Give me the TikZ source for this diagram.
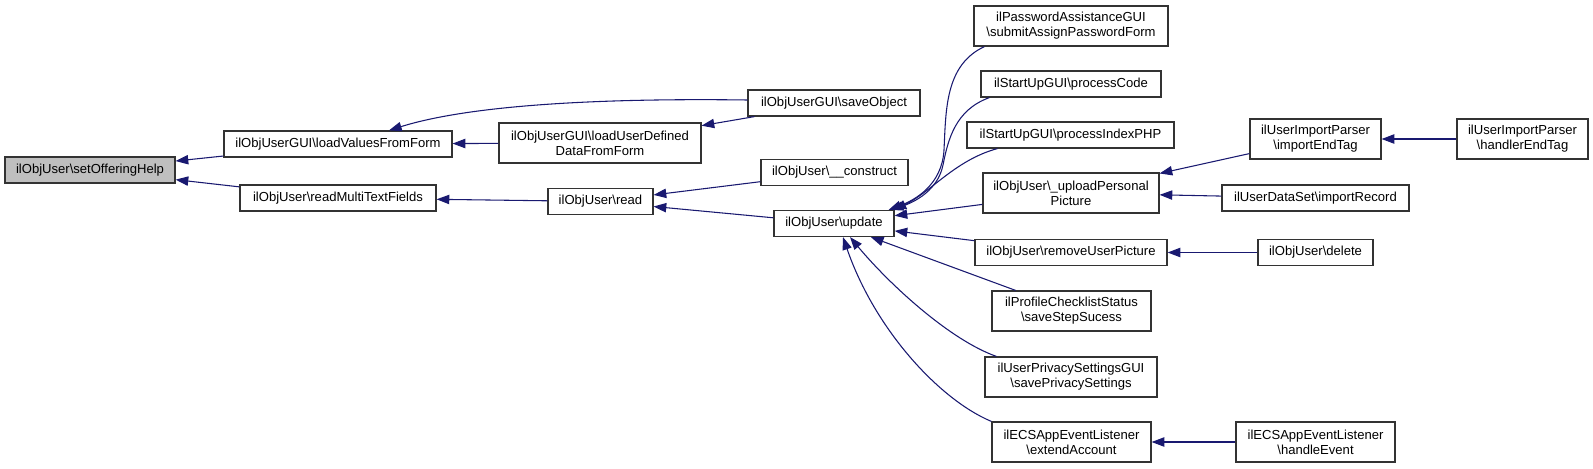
\documentclass[tikz,border=0pt]{standalone}
\usepackage{fontspec}
\setmainfont{Liberation Sans}
\usepackage{tikz}
\usetikzlibrary{arrows.meta, calc}
\definecolor{edgeblue}{RGB}{25,25,112}
\definecolor{rootgray}{RGB}{191,191,191}
\newcommand{\nsb}{\textbackslash}
\tikzset{>={Triangle[length=9.5pt,width=7pt]}}
\tikzset{
  fn/.style={draw=black!80, line width=0.9pt, fill=white, inner sep=0pt, align=center,
    minimum height=19.5pt, font=\fontsize{9.8}{11.25}\selectfont},
  fntwo/.style={fn, minimum height=30pt},
  call/.style={->, draw=edgeblue, line width=0.8pt}
}

\begin{document}
\begin{tikzpicture}[x=0.75pt, y=-0.75pt]
    \useasboundingbox (0,0) rectangle (1593,468);

    % callers, left to right
    \node[fn, fill=rootgray, minimum width=127.5pt] (help) at (90,170) {ilObjUser\nsb{}setOfferingHelp};
    \node[fn, minimum width=171pt] (lvff) at (338,144) {ilObjUserGUI\nsb{}loadValuesFromForm};
    \node[fn, minimum width=147pt] (rmtf) at (338,198) {ilObjUser\nsb{}readMultiTextFields};
    \node[fn, minimum width=129pt] (saveobj) at (834,103) {ilObjUserGUI\nsb{}saveObject};
    \node[fntwo, minimum width=151.5pt] (ludf) at (600,143) {ilObjUserGUI\nsb{}loadUserDefined\\DataFromForm};
    \node[fn, minimum width=78.75pt] (read) at (600.5,201.5) {ilObjUser\nsb{}read};
    \node[fn, minimum width=110.25pt] (construct) at (834.5,172.5) {ilObjUser\nsb\_\_construct};
    \node[fn, minimum width=90pt] (update) at (834,223.5) {ilObjUser\nsb{}update};

    \node[fntwo, minimum width=145.5pt] (pwd) at (1071,26) {ilPasswordAssistanceGUI\\\nsb{}submitAssignPasswordForm};
    \node[fn, minimum width=135pt] (pcode) at (1071,84) {ilStartUpGUI\nsb{}processCode};
    \node[fn, minimum width=155.25pt] (pindex) at (1070.5,135) {ilStartUpGUI\nsb{}processIndexPHP};
    \node[fntwo, minimum width=132pt] (upload) at (1071,193) {ilObjUser\nsb\_uploadPersonal\\Picture};
    \node[fn, minimum width=144pt] (rmpic) at (1071,252.5) {ilObjUser\nsb{}removeUserPicture};
    \node[fntwo, minimum width=119.25pt] (checklist) at (1071.5,311) {ilProfileChecklistStatus\\\nsb{}saveStepSucess};
    \node[fntwo, minimum width=129pt] (privacy) at (1071,377) {ilUserPrivacySettingsGUI\\\nsb{}savePrivacySettings};
    \node[fntwo, minimum width=119.25pt] (extend) at (1071.5,442) {ilECSAppEventListener\\\nsb{}extendAccount};

    \node[fntwo, minimum width=98.25pt] (endtag) at (1315.5,139) {ilUserImportParser\\\nsb{}importEndTag};
    \node[fn, minimum width=140.25pt] (record) at (1315.5,198) {ilUserDataSet\nsb{}importRecord};
    \node[fn, minimum width=86.25pt] (delete) at (1315.5,252.5) {ilObjUser\nsb{}delete};
    \node[fntwo, minimum width=119.25pt] (event) at (1315.5,442) {ilECSAppEventListener\\\nsb{}handleEvent};
    \node[fntwo, minimum width=98.25pt] (handler) at (1522.5,139) {ilUserImportParser\\\nsb{}handlerEndTag};

    % calls
    \draw[call] (lvff) -- (help);
    \draw[call] (rmtf) -- (help);
    \draw[call] ($(saveobj.west)+(0,-3)$) .. controls (600,98) and (470,105) .. ($(lvff.north)+(51,0)$);
    \draw[call] (ludf) -- (lvff);
    \draw[call] (saveobj) -- (ludf);
    \draw[call] (read) -- (rmtf);
    \draw[call] (construct) -- (read);
    \draw[call] (update) -- (read);

    \draw[call] ($(pwd.south west)+(11,0)$) .. controls (945,65) and (946,110) .. (944,150)
        .. controls (942,185) and (915,200) .. ($(update.north east)+(-6,0)$);
    \draw[call] ($(pcode.south west)+(9,0)$) .. controls (955,110) and (948,140) .. (943,165)
        .. controls (938,190) and (915,202) .. ($(update.north east)+(-4,0)$);
    \draw[call] ($(pindex.south west)+(31,0)$) .. controls (955,160) and (930,193) .. ($(update.north east)+(-1,0)$);
    \draw[call] (upload) -- (update);
    \draw[call] (rmpic) -- (update);
    \draw[call] (checklist) -- (update);
    \draw[call] ($(privacy.north west)+(12,0)$) .. controls (950,340) and (890,285) .. ($(update.south)+(16,0)$);
    \draw[call] (extend.north west) .. controls (940,400) and (875,330) .. ($(update.south)+(9,0)$);

    \draw[call] (endtag) -- (upload);
    \draw[call] (record) -- (upload);
    \draw[call] (handler) -- (endtag);
    \draw[call] (delete) -- (rmpic);
    \draw[call] (event) -- (extend);
\end{tikzpicture}
\end{document}
